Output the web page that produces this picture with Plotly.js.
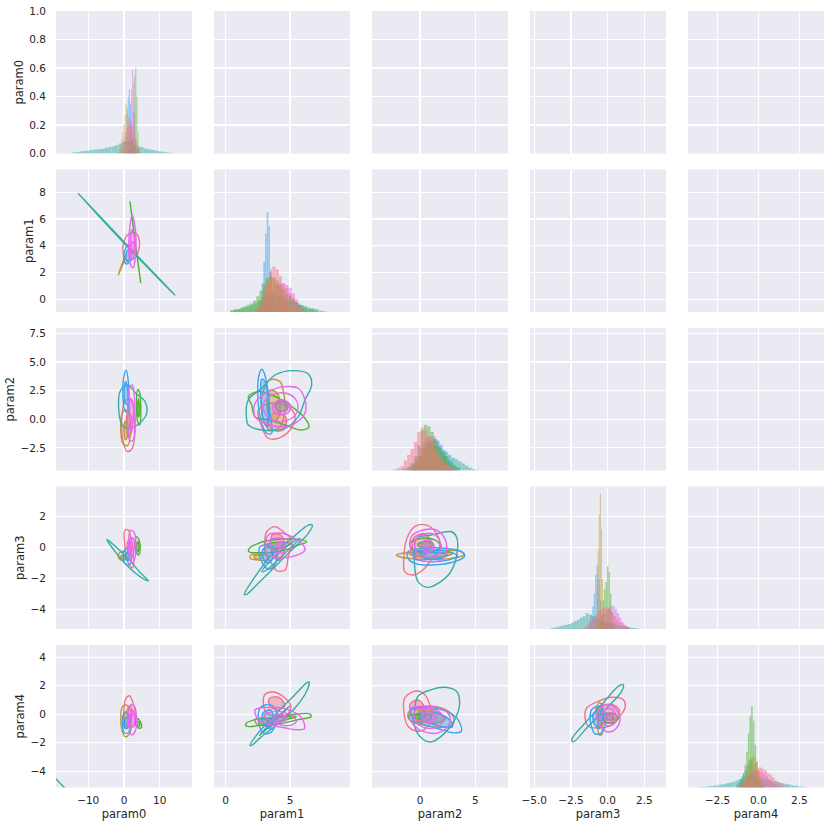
<!DOCTYPE html>
<html><head><meta charset="utf-8">
<script src="https://cdn.plot.ly/plotly-3.0.1.min.js"></script>
<style>html,body{margin:0;padding:0;background:#fff}#chart{width:830px;height:829px}</style>
</head><body><div id="chart"></div>
<script>
// ---------- names / ticks ----------
const params = ['param0','param1','param2','param3','param4'];
const hues = ['pink','olive','green','teal','blue','magenta'];
const hueColors = ['#f77189','#bb9832','#50b131','#36ada4','#3ba3ec','#e866f4'];
const colRanges = [[-19,19],[-0.91,9.66],[-4.33,7.94],[-5.29,3.97],[-4.3,4.0]];
const rowRanges = [[0,1],[-0.95,9.69],[-4.48,7.98],[-5.25,3.95],[-5.14,4.86]];
const colTickVals = [[-10,0,10],[0,5],[0,5],[-5,-2.5,0,2.5],[-2.5,0,2.5]];
const colTickText = [['−10','0','10'],['0','5'],['0','5'],['−5.0','−2.5','0.0','2.5'],['−2.5','0.0','2.5']];
const rowTickVals = [[0,0.2,0.4,0.6,0.8,1.0],[0,2,4,6,8],[-2.5,0,2.5,5,7.5],[-4,-2,0,2],[-4,-2,0,2,4]];
const rowTickText = [['0.0','0.2','0.4','0.6','0.8','1.0'],['0','2','4','6','8'],['−2.5','0.0','2.5','5.0','7.5'],['−4','−2','0','2'],['−4','−2','0','2','4']];

// ---------- diagonal histograms (bin start, bin width, heights as share of panel) ----------
// hue order: pink, olive, green, teal, blue, magenta
const hist0_x0 = [-0.6,-1.5,2.1,-15,0,1.2];
const hist0_dx = [0.3,0.3,0.3,1,0.3,0.3];
const hist0_pink = [0.02,0.05,0.09,0.12,0.15,0.18,0.2,0.21,0.2,0.19,0.18,0.16,0.13,0.1,0.07,0.04,0.02];
const hist0_olive = [0.01,0.03,0.06,0.1,0.15,0.2,0.27,0.35,0.32,0.25,0.15,0.08,0.03,0.01];
const hist0_green = [0.03,0.1,0.3,0.55,0.6,0.4,0.15,0.04,0.01];
const hist0_teal = [0.003,0.008,0.01,0.014,0.018,0.02,0.025,0.028,0.03,0.032,0.04,0.045,0.05,0.06,0.07,0.08,0.09,0.08,0.06,0.05,0.045,0.035,0.03,0.025,0.02,0.015,0.012,0.008,0.005,0.003];
const hist0_blue = [0.03,0.08,0.15,0.28,0.4,0.45,0.35,0.22,0.1,0.04,0.01];
const hist0_magenta = [0.03,0.1,0.25,0.45,0.59,0.5,0.28,0.1,0.03];

const hist1_x0 = [2.5,2.5,0.5,0.5,2.6,3.0];
const hist1_dx = [0.25,0.25,0.25,0.3,0.13,0.25];
const hist1_pink = [0.02,0.06,0.12,0.2,0.28,0.32,0.3,0.25,0.2,0.17,0.13,0.1,0.07,0.04,0.02,0.01];
const hist1_olive = [0.03,0.08,0.15,0.22,0.25,0.24,0.2,0.15,0.1,0.06,0.03,0.01];
const hist1_green = [0.01,0.02,0.02,0.03,0.04,0.05,0.06,0.08,0.11,0.15,0.2,0.24,0.25,0.24,0.22,0.19,0.16,0.13,0.11,0.09,0.07,0.05,0.04,0.03,0.02,0.02,0.01];
const hist1_teal = [0.01,0.015,0.02,0.03,0.035,0.045,0.06,0.08,0.1,0.12,0.13,0.12,0.11,0.1,0.09,0.08,0.07,0.06,0.05,0.04,0.03,0.025,0.02,0.01,0.005];
const hist1_blue = [0.03,0.08,0.2,0.35,0.55,0.7,0.6,0.3,0.12,0.06,0.03];
const hist1_magenta = [0.03,0.07,0.12,0.16,0.19,0.2,0.2,0.19,0.17,0.13,0.09,0.05,0.02];

const hist2_x0 = [-2.2,-0.6,-1.0,-1.5,-0.5,-0.8];
const hist2_dx = [0.3,0.3,0.3,0.3,0.3,0.3];
const hist2_pink = [0.01,0.02,0.03,0.07,0.11,0.15,0.2,0.27,0.3,0.28,0.24,0.2,0.15,0.11,0.07,0.05,0.03,0.02,0.01];
const hist2_olive = [0.02,0.05,0.1,0.16,0.2,0.21,0.19,0.15,0.11,0.07,0.04,0.02];
const hist2_green = [0.02,0.05,0.1,0.18,0.28,0.32,0.31,0.27,0.22,0.17,0.13,0.1,0.07,0.05,0.03,0.02];
const hist2_teal = [0.01,0.02,0.03,0.05,0.07,0.1,0.13,0.16,0.18,0.18,0.17,0.16,0.14,0.13,0.11,0.09,0.08,0.065,0.05,0.035,0.02,0.01,0.005];
const hist2_blue = [0.02,0.05,0.1,0.15,0.19,0.21,0.22,0.21,0.18,0.14,0.1,0.07,0.04,0.02];
const hist2_magenta = [0.02,0.05,0.1,0.16,0.2,0.23,0.24,0.24,0.2,0.15,0.1,0.06,0.03,0.01];

const hist3_x0 = [-1.6,-0.85,-0.5,-3.8,-1.3,-0.8];
const hist3_dx = [0.15,0.07,0.1,0.2,0.1,0.15];
const hist3_pink = [0.01,0.02,0.03,0.05,0.07,0.09,0.11,0.13,0.14,0.15,0.15,0.14,0.13,0.11,0.09,0.07,0.05,0.04,0.03,0.02,0.01];
const hist3_olive = [0.03,0.1,0.3,0.55,0.8,0.95,0.7,0.35,0.12,0.05,0.02];
const hist3_green = [0.05,0.1,0.2,0.28,0.33,0.44,0.4,0.25,0.12,0.05,0.02];
const hist3_teal = [0.005,0.01,0.015,0.02,0.025,0.03,0.035,0.045,0.055,0.065,0.08,0.09,0.11,0.1,0.09,0.08,0.07,0.06,0.05,0.045,0.04,0.035,0.03,0.025,0.02,0.017,0.014,0.01,0.007,0.004];
const hist3_blue = [0.03,0.06,0.1,0.16,0.25,0.38,0.45,0.35,0.2,0.1,0.05,0.02];
const hist3_magenta = [0.02,0.04,0.06,0.08,0.1,0.13,0.15,0.16,0.16,0.14,0.11,0.08,0.05,0.03,0.02,0.01];

const hist4_x0 = [-1.2,-1.0,-1.2,-3.5,-1.3,-1.0];
const hist4_dx = [0.15,0.1,0.1,0.2,0.1,0.15];
const hist4_pink = [0.01,0.02,0.04,0.06,0.08,0.1,0.12,0.13,0.14,0.14,0.13,0.12,0.1,0.09,0.07,0.05,0.04,0.03,0.02,0.01];
const hist4_olive = [0.02,0.05,0.08,0.12,0.16,0.19,0.21,0.22,0.21,0.18,0.13,0.08,0.04,0.02];
const hist4_green = [0.02,0.04,0.06,0.1,0.16,0.25,0.38,0.5,0.57,0.47,0.3,0.18,0.1,0.05,0.03,0.01];
const hist4_teal = [0.003,0.005,0.007,0.01,0.012,0.015,0.02,0.025,0.03,0.035,0.04,0.05,0.06,0.07,0.08,0.085,0.08,0.075,0.07,0.065,0.06,0.05,0.045,0.04,0.035,0.03,0.025,0.02,0.015,0.012,0.008,0.005,0.003];
const hist4_blue = [0.02,0.04,0.06,0.08,0.1,0.12,0.15,0.18,0.2,0.19,0.16,0.12,0.08,0.05,0.03,0.01];
const hist4_magenta = [0.02,0.04,0.06,0.08,0.1,0.11,0.12,0.12,0.11,0.1,0.08,0.06,0.04,0.025,0.015,0.01];

// ---------- KDE contour rings: [[x,y],...] per ring, outer first ----------
// row 2 (param1) vs col 1 (param0)
const kde21_pink = [[[-0.3,3.9],[0.4,4.6],[1.8,4.95],[3.5,4.9],[4.3,4.3],[3.9,3.5],[2.6,3.0],[0.9,2.9],[-0.1,3.3]],[[1.5,3.6],[2.5,4.3],[3.2,4.0],[2.4,3.4]]];
const kde21_olive = [[[-1.6,1.81],[-0.3,2.8],[0.84,3.45],[-0.2,2.7]]];
const kde21_green = [[[1.68,7.28],[3.1,4.3],[4.66,1.24],[3.2,4.2]]];
const kde21_teal = [[[-12.8,7.9],[0.5,4.15],[14.2,0.32],[0.7,4.0]]];
const kde21_blue = [[[0,2.93],[0.28,3.68],[1.2,4.05],[1.87,3.8],[1.87,2.93],[0.75,2.63]],[[0.5,3.0],[0.8,3.6],[1.5,3.7],[1.6,3.1],[1.0,2.8]]];
const kde21_magenta = [[[2.3,6.3],[3.0,5.6],[3.35,4.6],[3.2,3.3],[2.6,2.35],[1.8,2.6],[1.3,3.6],[1.5,5.0],[1.9,5.9]],[[2.2,5.2],[2.9,4.6],[2.8,3.3],[2.2,3.0],[1.8,4.0]]];
// row 3 (param2) vs col 1
const kde31_pink = [[[-0.5,0.5],[0.3,1.6],[1.7,1.8],[2.8,0.8],[3.1,-1.0],[2.2,-2.6],[0.8,-2.8],[-0.3,-1.8]],[[0.6,-0.3],[1.2,0.6],[2.0,0.3],[2.2,-1.0],[1.2,-1.6]]];
const kde31_olive = [[[-0.9,-1.0],[-0.5,0.5],[0.6,0.8],[1.5,0.2],[1.8,-1.2],[1.0,-2.3],[-0.3,-2.1]],[[0.0,-1.2],[0.3,-0.2],[1.0,-0.4],[1.0,-1.5],[0.4,-1.8]]];
const kde31_green = [[[3.5,1.0],[3.8,2.6],[4.3,2.4],[4.7,0.8],[4.4,-0.5],[3.8,-0.2]],[[3.8,0.5],[4.0,1.8],[4.3,1.0],[4.1,0.2]]];
const kde31_teal = [[[-1.0,2.5],[1.0,3.0],[3.5,2.2],[5.8,1.6],[6.3,0.5],[4.5,-0.3],[1.5,-0.8],[-0.5,-0.5],[-1.5,1.0]]];
const kde31_blue = [[[-0.3,2.0],[0.0,3.8],[0.6,4.3],[1.1,3.6],[1.4,1.5],[1.0,0.6],[0.2,0.8]],[[0.2,1.5],[0.4,3.3],[0.8,3.0],[0.9,1.3]]];
const kde31_magenta = [[[1.0,1.0],[1.5,2.8],[2.3,3.0],[2.9,2.0],[3.0,-0.2],[2.6,-1.8],[1.7,-1.9],[1.1,-0.8]],[[1.5,0.2],[1.8,1.8],[2.4,1.6],[2.6,0.0],[2.1,-1.0],[1.6,-0.8]]];
// row 4 (param3) vs col 1
const kde41_pink = [[[0.2,1.1],[1.2,1.15],[2.0,0.5],[2.6,-0.3],[2.4,-1.3],[1.2,-1.0],[0.5,-0.3],[0.1,0.5]],[[1.0,0.4],[1.6,0.5],[2.0,-0.3],[1.5,-0.6],[1.0,-0.2]]];
const kde41_olive = [[[-1.6,-0.5],[-0.8,-0.26],[0.5,-0.3],[0.75,-0.6],[0.0,-0.8],[-1.2,-0.75]],[[-0.9,-0.55],[0.0,-0.45],[0.3,-0.6],[-0.5,-0.7]]];
const kde41_green = [[[3.1,0.2],[3.5,0.7],[4.2,0.5],[4.5,-0.2],[4.1,-0.47],[3.4,-0.3]],[[3.5,0.0],[3.8,0.4],[4.2,0.1],[3.9,-0.3]]];
const kde41_teal = [[[-4.8,0.54],[-2,0.0],[1.5,-0.8],[4.5,-1.6],[6.8,-2.13],[5,-1.95],[1.5,-1.3],[-2,-0.4]]];
const kde41_blue = [[[-0.2,-0.5],[0.6,-0.04],[1.6,-0.1],[2.1,-0.6],[1.5,-1.1],[0.4,-1.05]],[[0.3,-0.5],[1.0,-0.3],[1.6,-0.5],[1.0,-0.85]]];
const kde41_magenta = [[[1.8,1.1],[2.8,1.0],[3.3,0.2],[3.0,-0.7],[2.2,-1.0],[1.4,-0.4],[1.3,0.5]],[[1.9,0.6],[2.6,0.6],[2.8,-0.2],[2.3,-0.6],[1.7,-0.2]]];
// row 5 (param4) vs col 1
const kde51_pink = [[[0.5,1.1],[1.5,1.3],[2.4,0.9],[3.2,0.0],[3.0,-0.8],[1.5,-0.9],[0.3,-0.5],[0.0,0.4]],[[1.0,0.4],[1.8,0.6],[2.4,0.0],[1.6,-0.4],[0.9,-0.1]]];
const kde51_olive = [[[-0.9,-0.3],[-0.5,0.5],[0.6,0.65],[1.7,0.3],[2.1,-0.6],[1.5,-1.4],[0.3,-1.57],[-0.6,-1.1]],[[-0.3,-0.4],[0.3,0.2],[1.2,0.0],[1.3,-0.8],[0.3,-1.0]]];
const kde51_green = [[[3.1,-0.4],[3.6,-0.28],[4.5,-0.5],[4.9,-0.9],[4.2,-0.98],[3.4,-0.8]],[[3.6,-0.5],[4.2,-0.55],[4.4,-0.8],[3.8,-0.8]]];
const kde51_teal = [[[-26,-2.75],[-13,-6.08]]];
const kde51_blue = [[[-0.4,-0.3],[0.3,0.1],[1.3,0.0],[1.7,-0.6],[1.2,-1.3],[0.1,-1.3]],[[0.2,-0.4],[0.9,-0.2],[1.3,-0.6],[0.8,-1.0],[0.2,-0.9]]];
const kde51_magenta = [[[1.2,0.0],[1.8,0.65],[2.8,0.6],[3.5,-0.2],[3.1,-1.2],[2.2,-1.45],[1.4,-0.9]],[[1.7,-0.2],[2.2,0.3],[2.9,0.0],[2.7,-0.8],[2.0,-0.9]]];
// row 3 (param2) vs col 2 (param1)
const kde32_pink = [[[2.53,0.81],[3.57,1.4],[4.86,1.1],[5.38,0.23],[5.0,-0.94],[4.09,-1.66],[3.31,-1.66],[2.8,-0.65]],[[3.3,0.2],[4.0,0.6],[4.7,0.1],[4.5,-0.9],[3.8,-1.0],[3.3,-0.5]]];
const kde32_olive = [[[3.44,3.44],[4.22,3.29],[4.48,2.41],[4.61,0.81],[4.22,-0.65],[3.44,-0.94],[2.92,-0.06],[2.8,1.98]],[[3.4,2.5],[4.0,2.3],[4.2,0.5],[3.8,-0.2],[3.3,0.5]]];
const kde32_green = [[[1.76,1.98],[2.53,2.41],[3.57,2.12],[5.13,1.1],[6.16,0.09],[6.47,-0.65],[5.9,-0.94],[4.61,-0.5],[3.31,-0.06],[2.28,0.23],[2.02,1.25]],[[3.9,1.4],[4.5,1.5],[4.8,0.9],[4.3,0.7],[3.9,0.9]]];
const kde32_teal = [[[1.63,-0.06],[1.76,1.69],[2.8,2.71],[3.83,3.87],[5.25,4.25],[6.42,3.96],[6.68,3.0],[6.16,1.69],[5.64,0.23],[4.6,-0.79],[2.8,-0.94],[1.76,-0.5]]];
const kde32_blue = [[[2.8,4.37],[3.0,4.02],[3.31,2.27],[3.44,0.52],[3.57,-1.22],[3.18,-1.22],[2.67,0.23],[2.49,2.27],[2.59,3.87]],[[2.8,3.5],[3.1,3.2],[3.3,1.0],[3.3,-0.6],[3.0,-0.3],[2.75,1.5]]];
const kde32_magenta = [[[2.28,1.4],[3.31,2.41],[4.61,2.85],[5.64,2.71],[6.16,1.69],[6.16,0.52],[5.38,-0.35],[4.35,-0.65],[3.05,-0.35],[2.28,0.23]],[[2.9,1.3],[3.6,2.1],[4.6,2.3],[5.4,1.8],[5.6,0.8],[5.0,0.0],[4.0,-0.2],[3.2,0.3]],[[3.7,1.3],[4.4,1.7],[5.0,1.3],[4.9,0.6],[4.2,0.4],[3.7,0.7]]];
// row 4 (param3) vs col 2
const kde42_pink = [[[3.18,1.03],[3.83,1.36],[4.61,0.93],[5.13,0.5],[4.86,-0.58],[4.61,-1.44],[3.96,-1.48],[3.57,-1.01],[3.05,-0.36],[3.05,0.5]],[[3.6,0.8],[4.3,0.8],[4.6,0.0],[4.2,-0.8],[3.7,-0.6],[3.5,0.1]]];
const kde42_olive = [[[1.89,-0.54],[2.53,-0.41],[3.31,-0.54],[3.18,-0.79],[2.41,-0.79],[1.94,-0.71]],[[2.2,-0.55],[2.9,-0.5],[2.8,-0.7],[2.3,-0.7]]];
const kde42_green = [[[1.76,-0.15],[2.53,0.28],[4.09,0.54],[5.64,0.54],[6.29,0.39],[5.64,0.17],[4.09,-0.26],[2.53,-0.32],[1.89,-0.3]],[[3.2,0.2],[4.3,0.35],[5.0,0.25],[4.5,0.0],[3.5,-0.05]]];
const kde42_teal = [[[1.45,-3.01],[2.28,-1.87],[3.57,-0.47],[5.13,0.6],[6.42,1.46],[6.73,1.46],[6.42,0.93],[5.13,-0.15],[3.83,-1.23],[2.53,-2.3],[1.63,-3.01]],[[2.8,-1.55],[4.35,-0.15],[5.77,0.6],[4.61,-0.36],[3.18,-1.44]]];
const kde42_blue = [[[2.67,0.06],[3.44,0.17],[3.96,-0.26],[3.96,-0.79],[3.57,-1.33],[3.18,-1.33],[2.8,-0.9],[2.59,-0.36]],[[2.9,-0.1],[3.5,0.0],[3.7,-0.6],[3.3,-1.0],[2.9,-0.7]]];
const kde42_magenta = [[[3.31,0.82],[4.35,0.93],[5.13,0.71],[6.03,0.17],[6.16,-0.15],[5.13,-0.58],[3.83,-0.62],[3.18,-0.26]],[[3.5,0.5],[4.5,0.6],[5.2,0.2],[4.6,-0.3],[3.7,-0.2]],[[4.0,0.35],[4.6,0.3],[4.5,0.0],[4.0,0.0]]];
// row 5 (param4) vs col 2
const kde52_pink = [[[3.05,1.38],[3.7,1.56],[4.61,1.14],[5.07,0.56],[4.74,-0.03],[3.96,-0.14],[3.18,0.09],[2.92,0.79]],[[3.4,1.1],[4.1,1.2],[4.6,0.6],[4.0,0.3],[3.4,0.6]]];
const kde52_olive = [[[2.28,-0.38],[3.05,-0.26],[3.7,-0.49],[3.18,-0.77],[2.41,-0.68]],[[2.6,-0.45],[3.2,-0.4],[3.3,-0.6],[2.7,-0.65]]];
const kde52_green = [[[1.55,-0.68],[2.28,-0.38],[3.57,-0.26],[5.13,-0.03],[6.55,0.02],[6.63,-0.17],[5.64,-0.38],[4.09,-0.68],[2.8,-0.77],[1.63,-0.84]],[[3.2,-0.35],[4.5,-0.2],[5.5,-0.15],[4.6,-0.4],[3.4,-0.55]]];
const kde52_teal = [[[1.89,-2.18],[2.53,-1.31],[3.83,-0.03],[5.13,1.14],[6.29,2.2],[6.47,2.27],[6.29,1.61],[5.38,0.44],[3.96,-0.73],[2.67,-1.66],[2.02,-2.18]],[[2.6,-1.5],[3.8,-0.5],[5.0,0.6],[4.0,-0.2],[2.9,-1.2]]];
const kde52_blue = [[[2.67,0.44],[3.44,0.68],[3.96,0.21],[3.83,-0.84],[3.44,-1.31],[2.92,-1.31],[2.59,-0.73],[2.53,-0.03]],[[2.9,0.1],[3.5,0.3],[3.7,-0.4],[3.4,-1.0],[2.9,-0.6]]];
const kde52_magenta = [[[2.28,0.32],[3.57,0.49],[4.86,0.32],[5.9,-0.26],[6.11,-1.01],[5.38,-1.08],[4.61,-0.96],[3.57,-0.77],[2.53,-0.38],[2.28,0.09]],[[3.0,-0.1],[3.9,0.2],[4.9,0.0],[5.5,-0.5],[4.9,-0.8],[3.8,-0.6]],[[3.7,-0.2],[4.3,0.0],[4.8,-0.3],[4.3,-0.55],[3.8,-0.45]]];
// row 4 (param3) vs col 3 (param2)
const kde43_pink = [[[-1.23,0.5],[-0.48,1.36],[0.58,1.46],[1.48,0.93],[1.78,0.06],[0.88,-0.9],[0.27,-1.44],[-0.63,-1.76],[-1.38,-1.55],[-1.44,-0.58]],[[-0.6,0.6],[0.4,0.9],[1.0,0.3],[0.4,-0.5],[-0.5,-0.4]]];
const kde43_olive = [[[-2.13,-0.47],[-1.08,-0.32],[1.03,-0.19],[3.74,-0.26],[3.97,-0.47],[2.83,-0.69],[0.42,-0.75],[-1.68,-0.62]],[[-1.0,-0.4],[1.0,-0.3],[3.0,-0.35],[2.0,-0.6],[0.0,-0.6]]];
const kde43_green = [[[-0.93,0.28],[0.13,0.6],[1.33,0.5],[1.93,0.06],[1.03,-0.26],[-0.48,-0.19]],[[-0.2,0.2],[0.6,0.4],[1.2,0.2],[0.6,-0.1]]];
const kde43_teal = [[[-0.33,0.6],[1.03,0.82],[2.83,1.03],[3.29,0.71],[3.29,-0.58],[2.68,-1.65],[1.63,-2.3],[0.72,-2.56],[-0.18,-2.19],[-0.48,-1.23],[-0.48,-0.26]]];
const kde43_blue = [[[-1.08,-0.26],[0.42,-0.04],[2.23,-0.04],[3.74,-0.26],[4.03,-0.54],[3.13,-0.9],[1.03,-1.12],[-0.48,-1.01],[-1.08,-0.69]],[[-0.6,-0.3],[1.0,-0.15],[2.8,-0.3],[3.4,-0.55],[2.5,-0.8],[0.8,-0.9],[-0.5,-0.7]],[[0.0,-0.4],[1.3,-0.3],[2.5,-0.45],[1.8,-0.7],[0.5,-0.7]]];
const kde43_magenta = [[[-0.78,0.71],[0.27,1.14],[1.48,1.14],[2.23,0.6],[2.38,-0.15],[1.93,-0.79],[1.03,-0.9],[-0.03,-0.79],[-0.78,-0.26]],[[-0.4,0.5],[0.4,0.9],[1.4,0.8],[1.9,0.1],[1.5,-0.5],[0.4,-0.6],[-0.4,-0.2]],[[0.2,0.35],[0.9,0.5],[1.3,0.0],[0.8,-0.3],[0.2,-0.1]]];
// row 5 (param4) vs col 3
const kde53_pink = [[[-1.38,1.14],[-0.48,1.61],[0.27,1.49],[0.88,0.67],[1.03,-0.26],[0.58,-0.96],[-0.18,-1.19],[-1.08,-0.84],[-1.44,0.09]],[[-0.9,0.7],[-0.2,1.0],[0.4,0.5],[0.3,-0.4],[-0.6,-0.3]]];
const kde53_olive = [[[-1.08,0.09],[0.42,0.56],[1.93,0.44],[2.98,-0.14],[2.98,-0.73],[1.93,-0.91],[0.42,-0.77],[-0.78,-0.49]],[[-0.2,0.2],[1.2,0.25],[2.3,-0.3],[1.6,-0.6],[0.2,-0.5]]];
const kde53_green = [[[-1.08,-0.14],[-0.03,0.02],[1.03,-0.14],[0.58,-0.49],[-0.78,-0.45]],[[-0.6,-0.15],[0.2,-0.05],[0.6,-0.25],[-0.1,-0.35]]];
const kde53_teal = [[[-0.18,1.26],[1.03,1.73],[2.23,1.89],[3.29,1.61],[3.58,0.79],[3.13,-0.38],[2.08,-1.43],[1.03,-1.94],[0.13,-1.66],[-0.48,-0.84],[-0.48,0.32]]];
const kde53_blue = [[[-0.78,0.32],[1.03,0.44],[2.53,0.16],[3.43,-0.38],[3.74,-1.19],[3.13,-1.31],[1.93,-1.08],[0.42,-0.73],[-0.63,-0.38]],[[0.0,0.1],[1.5,0.1],[2.8,-0.5],[2.9,-0.9],[1.6,-0.8],[0.2,-0.4]]];
const kde53_magenta = [[[-0.78,0.44],[0.42,0.56],[1.93,0.39],[2.68,-0.14],[2.53,-0.84],[1.63,-1.31],[0.42,-1.24],[-0.48,-0.84],[-0.93,-0.26]],[[-0.4,0.3],[0.6,0.4],[1.7,0.2],[2.1,-0.4],[1.5,-0.9],[0.3,-0.9],[-0.5,-0.4]],[[0.2,0.05],[1.0,0.15],[1.5,-0.3],[1.0,-0.6],[0.3,-0.5]]];
// row 5 (param4) vs col 4 (param3)
const kde54_pink = [[[-1.43,0.44],[-0.64,0.91],[0.27,1.19],[1.06,1.03],[1.18,0.44],[0.72,-0.26],[0.27,-0.77],[-0.64,-0.96],[-1.32,-0.84],[-1.54,-0.26]],[[-0.8,0.4],[0.2,0.7],[0.8,0.3],[0.4,-0.5],[-0.5,-0.5]]];
const kde54_olive = [[[-0.64,0.79],[-0.37,0.67],[-0.37,-0.73],[-0.41,-1.43],[-0.59,-1.43],[-0.68,-0.49]],[[-0.6,0.4],[-0.45,0.4],[-0.45,-0.8],[-0.58,-1.0]]];
const kde54_green = [[[-0.3,-0.03],[0.27,0.09],[0.72,-0.26],[0.38,-0.61],[-0.18,-0.54]],[[-0.1,-0.1],[0.3,-0.05],[0.4,-0.35],[0.0,-0.4]]];
const kde54_teal = [[[-2.45,-1.78],[-1.54,-0.61],[-0.41,0.67],[0.72,1.96],[1.06,2.08],[0.95,1.61],[-0.18,0.32],[-1.32,-0.84],[-2.34,-1.94]]];
const kde54_blue = [[[-1.09,0.32],[-0.64,0.56],[-0.23,0.09],[-0.18,-0.73],[-0.41,-1.31],[-0.86,-1.38],[-1.14,-0.73],[-1.2,-0.14]],[[-0.95,0.1],[-0.5,0.25],[-0.35,-0.4],[-0.6,-1.0],[-0.95,-0.6]]];
const kde54_magenta = [[[-0.52,0.44],[0.04,0.67],[0.61,0.32],[0.84,-0.26],[0.61,-0.96],[0.04,-1.24],[-0.41,-0.96],[-0.75,-0.26]],[[-0.3,0.2],[0.1,0.4],[0.5,0.1],[0.5,-0.6],[0.0,-0.8],[-0.4,-0.5]],[[-0.1,0.0],[0.2,0.1],[0.3,-0.3],[0.0,-0.45],[-0.2,-0.3]]];

// ---------- lookup ----------
const histSets = [
  {x0:hist0_x0, dx:hist0_dx, h:[hist0_pink,hist0_olive,hist0_green,hist0_teal,hist0_blue,hist0_magenta]},
  {x0:hist1_x0, dx:hist1_dx, h:[hist1_pink,hist1_olive,hist1_green,hist1_teal,hist1_blue,hist1_magenta]},
  {x0:hist2_x0, dx:hist2_dx, h:[hist2_pink,hist2_olive,hist2_green,hist2_teal,hist2_blue,hist2_magenta]},
  {x0:hist3_x0, dx:hist3_dx, h:[hist3_pink,hist3_olive,hist3_green,hist3_teal,hist3_blue,hist3_magenta]},
  {x0:hist4_x0, dx:hist4_dx, h:[hist4_pink,hist4_olive,hist4_green,hist4_teal,hist4_blue,hist4_magenta]}
];
const kdeSets = [
  [2,1,[kde21_pink,kde21_olive,kde21_green,kde21_teal,kde21_blue,kde21_magenta]],
  [3,1,[kde31_pink,kde31_olive,kde31_green,kde31_teal,kde31_blue,kde31_magenta]],
  [4,1,[kde41_pink,kde41_olive,kde41_green,kde41_teal,kde41_blue,kde41_magenta]],
  [5,1,[kde51_pink,kde51_olive,kde51_green,kde51_teal,kde51_blue,kde51_magenta]],
  [3,2,[kde32_pink,kde32_olive,kde32_green,kde32_teal,kde32_blue,kde32_magenta]],
  [4,2,[kde42_pink,kde42_olive,kde42_green,kde42_teal,kde42_blue,kde42_magenta]],
  [5,2,[kde52_pink,kde52_olive,kde52_green,kde52_teal,kde52_blue,kde52_magenta]],
  [4,3,[kde43_pink,kde43_olive,kde43_green,kde43_teal,kde43_blue,kde43_magenta]],
  [5,3,[kde53_pink,kde53_olive,kde53_green,kde53_teal,kde53_blue,kde53_magenta]],
  [5,4,[kde54_pink,kde54_olive,kde54_green,kde54_teal,kde54_blue,kde54_magenta]]
];

// ---------- layout geometry (pixels) ----------
const W = 830, H = 829;
const colLeft = [56,214,372,530,688], colW = 136;
const rowTop = [11,169.5,328,486.5,645], rowH = 142.5;
const textColor = '#262626';
const fontFam = 'DejaVu Sans, Liberation Sans, sans-serif';

function cellId(r,c){ const n=(r-1)*5+c; return n===1?'':String(n); }
function rgba(hex,a){ const v=parseInt(hex.slice(1),16); return `rgba(${v>>16&255},${v>>8&255},${v&255},${a})`; }

const layout = {
  width: W, height: H, margin:{l:0,r:0,t:0,b:0},
  paper_bgcolor:'#ffffff', plot_bgcolor:'#eaeaf2',
  showlegend:false, hovermode:false, barmode:'overlay',
  font:{family:fontFam, color:textColor, size:10}
};
const data = [];

for (let r=1;r<=5;r++){
  for (let c=1;c<=5;c++){
    const id = cellId(r,c);
    const xd = [colLeft[c-1]/W, (colLeft[c-1]+colW)/W];
    const yd = [1-(rowTop[r-1]+rowH)/H, 1-rowTop[r-1]/H];
    layout['xaxis'+id] = {
      domain: xd, range: colRanges[c-1], anchor:'y'+id,
      tickmode:'array', tickvals: colTickVals[c-1], ticktext: colTickText[c-1],
      showticklabels: r===5, ticks:'outside', ticklen:3, tickcolor:'rgba(0,0,0,0)',
      tickfont:{size:10.5, color:textColor, family:fontFam},
      showgrid:true, gridcolor:'#ffffff', gridwidth:1.2, zeroline:false, showline:false, fixedrange:true,
      title: r===5 ? {text: params[c-1], font:{size:11.5, color:textColor, family:fontFam}, standoff:4} : {text:''}
    };
    layout['yaxis'+id] = {
      domain: yd, range: rowRanges[r-1], anchor:'x'+id,
      tickmode:'array', tickvals: rowTickVals[r-1], ticktext: rowTickText[r-1],
      showticklabels: c===1, ticks:'outside', ticklen:7, tickcolor:'rgba(0,0,0,0)',
      tickfont:{size:10.5, color:textColor, family:fontFam},
      showgrid:true, gridcolor:'#ffffff', gridwidth:1.2, zeroline:false, showline:false, fixedrange:true,
      title: c===1 ? {text: params[r-1], font:{size:11.5, color:textColor, family:fontFam}, standoff:3} : {text:''}
    };
    data.push({type:'scatter', x:[null], y:[null], xaxis:'x'+id, yaxis:'y'+id, mode:'markers', showlegend:false, hoverinfo:'skip'});
  }
}

// diagonal histograms (on hidden 0..1 axes for rows 2..5)
for (let d=0; d<5; d++){
  const id = cellId(d+1,d+1);
  let yref = 'y'+id;
  if (d>0){
    const oid = String(25+d);
    layout['yaxis'+oid] = {overlaying:'y'+id, anchor:'x'+id, range:[0,1], visible:false, fixedrange:true, showgrid:false, zeroline:false};
    yref = 'y'+oid;
  }
  const hs = histSets[d];
  for (let k=hues.length-1; k>=0; k--){
    data.push({type:'bar', x0: hs.x0[k], dx: hs.dx[k], y: hs.h[k], width: hs.dx[k],
      xaxis:'x'+id, yaxis:yref, marker:{color:hueColors[k], line:{width:0}}, opacity:0.5,
      hoverinfo:'skip', showlegend:false});
  }
}

// KDE contour rings
kdeSets.forEach(([r,c,sets])=>{
  const id = cellId(r,c);
  sets.forEach((rings,k)=>{
    const xs=[], ys=[];
    rings.forEach(ring=>{
      ring.forEach(p=>{xs.push(p[0]); ys.push(p[1]);});
      xs.push(ring[0][0]); ys.push(ring[0][1]);
      xs.push(null); ys.push(null);
    });
    if (rings.length>=2 && hues[k]!=='teal'){
      const core = rings[rings.length-1];
      const cx = core.map(p=>p[0]).concat([core[0][0]]);
      const cy = core.map(p=>p[1]).concat([core[0][1]]);
      data.push({type:'scatter', mode:'lines', x:cx, y:cy, xaxis:'x'+id, yaxis:'y'+id,
        fill:'toself', fillcolor: rgba(hueColors[k],0.45), line:{width:0, shape:'spline', smoothing:1},
        hoverinfo:'skip', showlegend:false});
    }
    data.push({type:'scatter', mode:'lines', x:xs, y:ys, xaxis:'x'+id, yaxis:'y'+id, connectgaps:false,
      line:{color:hueColors[k], width:1.4, shape:'spline', smoothing:1},
      hoverinfo:'skip', showlegend:false});
  });
});

Plotly.newPlot('chart', data, layout, {staticPlot:true, displayModeBar:false});
</script>
</body></html>
